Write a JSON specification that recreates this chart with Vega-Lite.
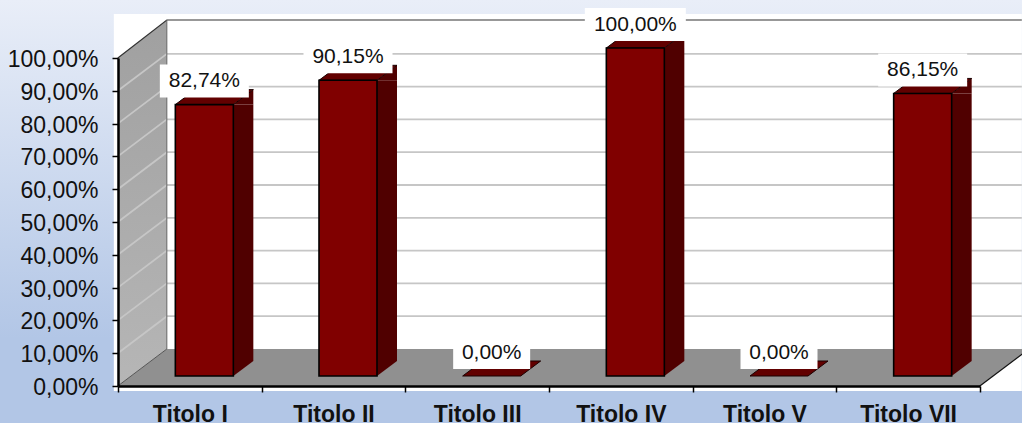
{
"$schema":"https://vega.github.io/schema/vega-lite/v6.json",
"width":1022,"height":423,"padding":0,"autosize":"none",
"background":"#c8d6ec",
"view":{"stroke":null,"fill":{"gradient":"linear","x1":0,"y1":0,"x2":0,"y2":1,"stops":[{"offset":0,"color":"#e9eef8"},{"offset":0.8,"color":"#b2c6e6"},{"offset":1,"color":"#b2c6e6"}]}},
"config":{"font":"Liberation Sans"},
"datasets":{
"bars":[
{"title":"Titolo I","value":82.74,"label":"82,74%"},
{"title":"Titolo II","value":90.15,"label":"90,15%"},
{"title":"Titolo III","value":0,"label":"0,00%"},
{"title":"Titolo IV","value":100,"label":"100,00%"},
{"title":"Titolo V","value":0,"label":"0,00%"},
{"title":"Titolo VII","value":86.15,"label":"86,15%"}],
"frame":[{"title":"Titolo I","value":0}],
"grid":[{"tick":10},{"tick":20},{"tick":30},{"tick":40},{"tick":50},{"tick":60},{"tick":70},{"tick":80},{"tick":90}]
},
"encoding":{
"x":{"field":"title","type":"nominal","sort":null,"scale":{"type":"band","domain":["Titolo I","Titolo II","Titolo III","Titolo IV","Titolo V","Titolo VII"],"range":[118,980],"paddingInner":0,"paddingOuter":0},"axis":{"title":null,"offset":-37,"orient":"bottom","labelAngle":0,"labelFontSize":23,"labelFontWeight":"bold","labelColor":"#111111","labelPadding":11,"tickBand":"extent","tickSize":6,"tickWidth":1.5,"tickColor":"#000000","domainColor":"#000000","domainWidth":2.5,"labelOverlap":false,"labelBound":false,"labelFlush":false,"zindex":1,"grid":false}},
"y":{"field":"value","type":"quantitative","scale":{"domain":[0,100],"range":[386,58],"nice":false,"zero":false},"axis":{"title":null,"offset":-118,"orient":"left","values":[0,10,20,30,40,50,60,70,80,90,100],"labelExpr":"replace(format(datum.value,'.2f'),'.',',')+'%'","labelFontSize":23,"labelColor":"#111111","labelPadding":14,"labelOffset":1.5,"tickSize":6,"tickWidth":1.5,"tickColor":"#000000","domainColor":"#000000","domainWidth":2.5,"labelOverlap":false,"labelBound":false,"labelFlush":false,"zindex":1,"grid":false}}
},
"layer":[
{"data":{"name":"frame"},"mark":{"type":"point","shape":"M-76 -372 H832 V5 H-76 Z","size":4,"filled":true,"fill":"#ffffff","stroke":null,"opacity":1}},
{"data":{"name":"frame"},"mark":{"type":"point","shape":"M-72 -328 L-23 -366 V-37 L-72 0 Z","size":4,"filled":true,"fill":{"gradient":"linear","x1":0,"y1":0,"x2":0,"y2":1,"stops":[{"offset":0,"color":"#a0a0a0"},{"offset":1,"color":"#b6b6b6"}]},"stroke":null,"opacity":1}},
{"data":{"name":"frame"},"mark":{"type":"point","shape":"M-72 0 L-23 -37 H839 L790 0 Z","size":4,"filled":true,"fill":"#909090","stroke":null,"opacity":1}},
{"data":{"name":"grid"},"encoding":{"y":{"field":"tick","type":"quantitative"},"x":{"datum":"Titolo I"}},"mark":{"type":"point","shape":"M-72 0 L-23 -37 H832","size":4,"filled":false,"fill":null,"stroke":"#c6c6c6","strokeWidth":1.8,"opacity":1}},
{"data":{"name":"frame"},"mark":{"type":"point","shape":"M-72 -328 L-23 -366 H832","size":4,"filled":false,"fill":null,"stroke":"#333333","strokeWidth":1.2,"opacity":1}},
{"data":{"name":"frame"},"mark":{"type":"point","shape":"M-23 -366 V-37","size":4,"filled":false,"fill":null,"stroke":"#666666","strokeWidth":1,"opacity":1}},
{"data":{"name":"frame"},"mark":{"type":"point","shape":"M-72 0 L-23 -37","size":4,"filled":false,"fill":null,"stroke":"#555555","strokeWidth":1,"opacity":1}},
{"data":{"name":"frame"},"mark":{"type":"point","shape":"M790 0 L839 -37","size":4,"filled":false,"fill":null,"stroke":"#111111","strokeWidth":1.2,"opacity":1}},
{"data":{"name":"bars"},"transform":[{"filter":"datum.value>0"}],"mark":{"type":"bar","size":20,"xOffset":53.5,"yOffset":-10,"y2Offset":-25,"fill":"#500000","stroke":null,"opacity":1},"encoding":{"y2":{"datum":0}}},
{"data":{"name":"bars"},"transform":[{"filter":"datum.value>0"}],"mark":{"type":"point","shape":"M43.5 -10 L63.5 -25 V-10 Z","size":4,"filled":true,"fill":"#500000","stroke":null,"opacity":1}},
{"data":{"name":"bars"},"transform":[{"filter":"datum.value>0"}],"encoding":{"y":{"datum":0}},"mark":{"type":"point","shape":"M43.5 -10 V-25 H63.5 Z","size":4,"filled":true,"fill":"#500000","stroke":null,"opacity":1}},
{"data":{"name":"bars"},"mark":{"type":"point","shape":"M-14.5 -10 L5.5 -25 H63.5 L43.5 -10 Z","size":4,"filled":true,"fill":"#620000","stroke":"#1a0000","strokeWidth":1,"opacity":1}},
{"data":{"name":"bars"},"transform":[{"filter":"datum.value>0"}],"encoding":{"y2":{"datum":0}},"mark":{"type":"bar","size":58,"xOffset":14.5,"yOffset":-10,"y2Offset":-10,"fill":"#800000","stroke":"#000000","strokeWidth":1.6,"opacity":1}},
{"data":{"name":"bars"},"encoding":{"shape":{"field":"label","type":"nominal","legend":null,"scale":{"domain":["82,74%","90,15%","0,00%","100,00%","86,15%"],"range":["M-30 -50 H59 V-17 H-30 Z","M-30 -50 H59 V-17 H-30 Z","M-24 -50 H53 V-17 H-24 Z","M-36 -50 H65 V-17 H-36 Z","M-30 -50 H59 V-17 H-30 Z"]}}},"mark":{"type":"point","size":4,"filled":true,"fill":"#ffffff","stroke":null,"opacity":1}},
{"data":{"name":"bars"},"encoding":{"text":{"field":"label","type":"nominal"}},"mark":{"type":"text","fontSize":21,"color":"#111111","xOffset":14.5,"yOffset":-33.5,"baseline":"middle","align":"center"}}
]
}
